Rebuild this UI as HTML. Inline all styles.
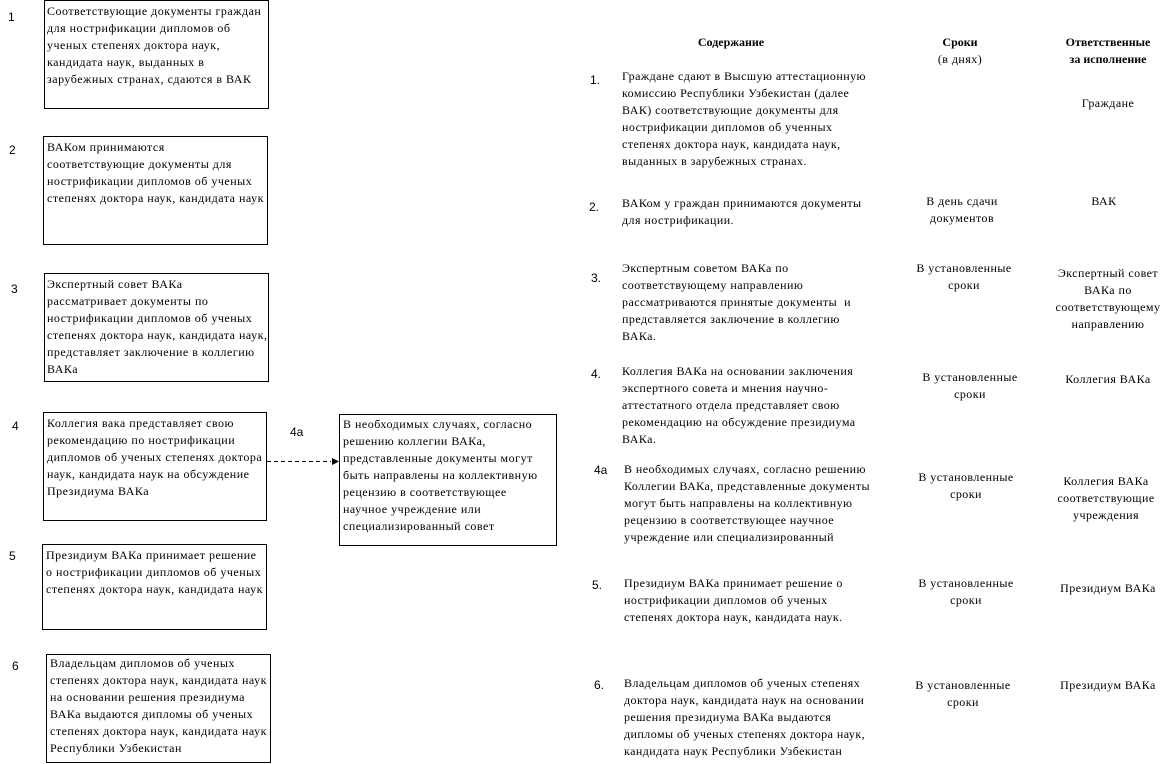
<!DOCTYPE html>
<html><head><meta charset="utf-8">
<style>
body{margin:0;width:1165px;height:764px;background:#fff;position:relative;overflow:hidden;font-family:"Liberation Serif","DejaVu Serif",serif;font-size:12px;color:#000;letter-spacing:0.45px}
.b{position:absolute;border:1px solid #000;box-sizing:border-box}
.t{position:absolute;line-height:17px;white-space:nowrap}
.L{font-size:12px;letter-spacing:0.5px}
.n{position:absolute;font-family:"Liberation Sans",sans-serif;font-size:12px;line-height:17px;letter-spacing:0}
.c{text-align:center;transform:translateX(-50%)}
.h{font-weight:bold;letter-spacing:0}
</style></head><body>
<div class="b" style="left:44px;top:0;width:225px;height:109px"></div>
<div class="t L" style="left:47px;top:3px">Соответствующие документы граждан<br>для нострификации дипломов об<br>ученых степенях доктора наук,<br>кандидата наук, выданных в<br>зарубежных странах, сдаются в ВАК</div>
<div class="b" style="left:43px;top:136px;width:225px;height:109px"></div>
<div class="t L" style="left:47px;top:139px">ВАКом принимаются<br>соответствующие документы для<br>нострификации дипломов об ученых<br>степенях доктора наук, кандидата наук</div>
<div class="b" style="left:44px;top:273px;width:225px;height:109px"></div>
<div class="t L" style="left:47px;top:276px">Экспертный совет ВАКа<br>рассматривает документы по<br>нострификации дипломов об ученых<br>степенях доктора наук, кандидата наук,<br>представляет заключение в коллегию<br>ВАКа</div>
<div class="b" style="left:43px;top:412px;width:224px;height:109px"></div>
<div class="t L" style="left:47px;top:415px">Коллегия вака представляет свою<br>рекомендацию по нострификации<br>дипломов об ученых степенях доктора<br>наук, кандидата наук на обсуждение<br>Президиума ВАКа</div>
<div class="b" style="left:339px;top:414px;width:218px;height:132px"></div>
<div class="t L" style="left:343px;top:416px">В необходимых случаях, согласно<br>решению коллегии ВАКа,<br>представленные документы могут<br>быть направлены на коллективную<br>рецензию в соответствующее<br>научное учреждение или<br>специализированный совет</div>
<svg style="position:absolute;left:0;top:0" width="1165" height="764"><line x1="267" y1="461.5" x2="331" y2="461.5" stroke="#000" stroke-dasharray="4,3"/><polygon points="332,458 339,461.5 332,465" fill="#000"/></svg>
<div class="b" style="left:42px;top:544px;width:225px;height:86px"></div>
<div class="t L" style="left:46px;top:547px">Президиум ВАКа принимает решение<br>о нострификации дипломов об ученых<br>степенях доктора наук, кандидата наук</div>
<div class="b" style="left:46px;top:654px;width:225px;height:109px"></div>
<div class="t L" style="left:50px;top:655px">Владельцам дипломов об ученых<br>степенях доктора наук, кандидата наук<br>на основании решения президиума<br>ВАКа выдаются дипломы об ученых<br>степенях доктора наук, кандидата наук<br>Республики Узбекистан</div>
<div class="n" style="left:8px;top:9px">1</div>
<div class="n" style="left:9px;top:142px">2</div>
<div class="n" style="left:11px;top:281px">3</div>
<div class="n" style="left:12px;top:418px">4</div>
<div class="n" style="left:9px;top:548px">5</div>
<div class="n" style="left:12px;top:658px">6</div>
<div class="n" style="left:290px;top:424px">4a</div>

<div class="t c h" style="left:731px;top:34px">Содержание</div>
<div class="t c" style="left:960px;top:34px"><b style="letter-spacing:0">Сроки</b><br>(в днях)</div>
<div class="t c h" style="left:1108px;top:34px">Ответственные<br>за исполнение</div>

<div class="n" style="left:590px;top:72px">1.</div>
<div class="t" style="left:622px;top:68px">Граждане сдают в Высшую аттестационную<br>комиссию Республики Узбекистан (далее<br>ВАК) соответствующие документы для<br>нострификации дипломов об ученных<br>степенях доктора наук, кандидата наук,<br>выданных в зарубежных странах.</div>
<div class="t c" style="left:1108px;top:95px">Граждане</div>

<div class="n" style="left:589px;top:199px">2.</div>
<div class="t" style="left:622px;top:195px">ВАКом у граждан принимаются документы<br>для нострификации.</div>
<div class="t c" style="left:962px;top:193px">В день сдачи<br>документов</div>
<div class="t c" style="left:1104px;top:193px">ВАК</div>

<div class="n" style="left:591px;top:270px">3.</div>
<div class="t" style="left:622px;top:260px">Экспертным советом ВАКа по<br>соответствующему направлению<br>рассматриваются принятые документы&nbsp; и<br>представляется заключение в коллегию<br>ВАКа.</div>
<div class="t c" style="left:964px;top:260px">В установленные<br>сроки</div>
<div class="t c" style="left:1108px;top:265px">Экспертный совет<br>ВАКа по<br>соответствующему<br>направлению</div>

<div class="n" style="left:591px;top:366px">4.</div>
<div class="t" style="left:622px;top:363px">Коллегия ВАКа на основании заключения<br>экспертного совета и мнения научно-<br>аттестатного отдела представляет свою<br>рекомендацию на обсуждение президиума<br>ВАКа.</div>
<div class="t c" style="left:970px;top:369px">В установленные<br>сроки</div>
<div class="t c" style="left:1108px;top:371px">Коллегия ВАКа</div>

<div class="n" style="left:594px;top:462px">4a</div>
<div class="t" style="left:624px;top:461px">В необходимых случаях, согласно решению<br>Коллегии ВАКа, представленные документы<br>могут быть направлены на коллективную<br>рецензию в соответствующее научное<br>учреждение или специализированный</div>
<div class="t c" style="left:966px;top:469px">В установленные<br>сроки</div>
<div class="t c" style="left:1106px;top:473px">Коллегия ВАКа<br>соответствующие<br>учреждения</div>

<div class="n" style="left:592px;top:577px">5.</div>
<div class="t" style="left:624px;top:575px">Президиум ВАКа принимает решение о<br>нострификации дипломов об ученых<br>степенях доктора наук, кандидата наук.</div>
<div class="t c" style="left:966px;top:575px">В установленные<br>сроки</div>
<div class="t c" style="left:1108px;top:580px">Президиум ВАКа</div>

<div class="n" style="left:594px;top:677px">6.</div>
<div class="t" style="left:624px;top:675px">Владельцам дипломов об ученых степенях<br>доктора наук, кандидата наук на основании<br>решения президиума ВАКа выдаются<br>дипломы об ученых степенях доктора наук,<br>кандидата наук Республики Узбекистан</div>
<div class="t c" style="left:963px;top:677px">В установленные<br>сроки</div>
<div class="t c" style="left:1108px;top:677px">Президиум ВАКа</div>
</body></html>
